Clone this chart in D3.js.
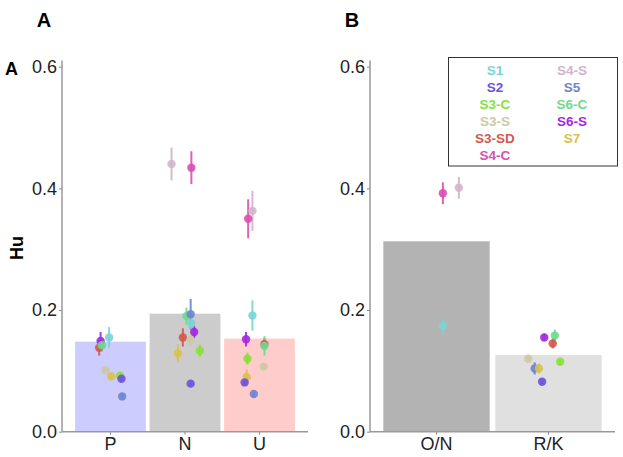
<!DOCTYPE html>
<html><head><meta charset="utf-8">
<script src="https://cdn.jsdelivr.net/npm/d3@7"></script>
<style>body{margin:0;background:#fff}svg{display:block}text{font-family:"Liberation Sans",Arial,sans-serif}</style>
</head><body>
<svg id="c" width="623" height="457"></svg>
<script>
// ---- data ----
const seriesNames = ["S1","S2","S3-C","S3-S","S3-SD","S4-C","S4-S","S5","S6-C","S6-S","S7"];
const seriesColors = ["#7ad4d6","#6e52d8","#88e03c","#cdc9a6","#d4574f","#dc4eb2","#d2b4cc","#6d85cf","#6cdb8d","#a229e0","#d9c24c"];

const catsA = ["P","N","U"];
const barsA = [0.148, 0.194, 0.153];
const barColorsA = ["#ccccff","#cccccc","#ffcccc"];

const catsB = ["O/N","R/K"];
const barsB = [0.313, 0.126];
const barColorsB = ["#b3b3b3","#e0e0e0"];

const yTicks = [0.0, 0.2, 0.4, 0.6];

// points: [category, series, mean, errorHalf, jitter (fraction of band from centre)]
const pointsA = [
  ["P","S6-S",0.149,0.015,-0.14],["P","S3-SD",0.138,0.013,-0.16],["P","S6-C",0.142,0.010,-0.12],
  ["P","S1",0.155,0.017,-0.02],["P","S3-S",0.101,0.004,-0.07],["P","S7",0.091,0.006,0.01],
  ["P","S3-C",0.092,0.006,0.135],["P","S2",0.087,0.005,0.155],["P","S5",0.058,0.005,0.165],
  ["N","S4-S",0.440,0.027,-0.19],["N","S4-C",0.434,0.027,0.09],["N","S6-C",0.190,0.014,0.02],
  ["N","S5",0.193,0.025,0.08],["N","S1",0.178,0.010,0.09],["N","S6-S",0.164,0.010,0.13],
  ["N","S3-SD",0.155,0.015,-0.03],["N","S3-S",0.151,0.010,0.08],["N","S7",0.129,0.015,-0.10],
  ["N","S3-C",0.133,0.010,0.21],["N","S2",0.079,0.004,0.08],
  ["U","S4-C",0.350,0.032,-0.16],["U","S4-S",0.363,0.033,-0.10],["U","S1",0.191,0.025,-0.10],
  ["U","S6-S",0.152,0.012,-0.19],["U","S3-SD",0.144,0.010,0.07],["U","S6-C",0.141,0.016,0.07],
  ["U","S3-C",0.120,0.010,-0.17],["U","S3-S",0.107,0.005,0.06],["U","S7",0.090,0.012,-0.18],
  ["U","S2",0.081,0.005,-0.21],["U","S5",0.062,0.005,-0.08]
];
const pointsB = [
  ["O/N","S4-C",0.392,0.018,0.06],["O/N","S4-S",0.401,0.018,0.21],["O/N","S1",0.174,0.012,0.06],
  ["R/K","S6-S",0.155,0.006,-0.04],["R/K","S6-C",0.158,0.010,0.06],["R/K","S3-SD",0.145,0.008,0.04],
  ["R/K","S3-S",0.120,0.004,-0.19],["R/K","S3-C",0.115,0.004,0.11],["R/K","S5",0.104,0.010,-0.13],
  ["R/K","S7",0.104,0.008,-0.09],["R/K","S2",0.082,0.004,-0.06]
];

// ---- drawing ----
const svg = d3.select("#c");
const color = d3.scaleOrdinal().domain(seriesNames).range(seriesColors);
const y = d3.scaleLinear().domain([0, 0.6]).range([431.7, 66.7]);

function panel(x0, x1, cats, bars, barColors, pts, padOuter, title, titleX) {
  const x = d3.scaleBand().domain(cats).range([x0, x1]).paddingInner(0.05).paddingOuter(padOuter);
  const g = svg.append("g");
  // bars
  g.selectAll("rect.bar").data(cats).join("rect")
    .attr("x", d => x(d)).attr("width", x.bandwidth())
    .attr("y", (d,i) => y(bars[i])).attr("height", (d,i) => y(0) - y(bars[i]))
    .attr("fill", (d,i) => barColors[i]);
  // error bars
  const px = d => x(d[0]) + x.bandwidth()/2 + d[4]*x.bandwidth();
  g.selectAll("line.err").data(pts).join("line")
    .attr("x1", px).attr("x2", px)
    .attr("y1", d => y(d[2]-d[3])).attr("y2", d => y(d[2]+d[3]))
    .attr("stroke", d => color(d[1])).attr("stroke-width", 2).attr("opacity", 0.9);
  g.selectAll("circle.pt").data(pts).join("circle")
    .attr("cx", px).attr("cy", d => y(d[2])).attr("r", 4.2)
    .attr("fill", d => color(d[1])).attr("opacity", 0.9);
  // axes
  const ya = g.append("g").attr("transform", `translate(${x0},0)`)
    .call(d3.axisLeft(y).tickValues(yTicks).tickFormat(d3.format(".1f")).tickSize(3).tickPadding(2));
  const xa = g.append("g").attr("transform", `translate(0,${y(0)})`)
    .call(d3.axisBottom(x).tickSize(3).tickPadding(3));
  [ya, xa].forEach(a => {
    a.select(".domain").remove();
    a.selectAll(".tick line").attr("stroke", "#888");
    a.selectAll(".tick text").attr("fill", "#222").style("font-size", "18px");
  });
  g.append("line").attr("x1", x0).attr("x2", x0).attr("y1", y(0)).attr("y2", y(0.61))
    .attr("stroke", "#999").attr("stroke-width", 1.5);
  g.append("line").attr("x1", x0).attr("x2", x1).attr("y1", y(0)).attr("y2", y(0))
    .attr("stroke", "#999").attr("stroke-width", 1.5);
  svg.append("text").attr("x", titleX).attr("y", 27).attr("text-anchor", "middle")
    .style("font-size", "20px").style("font-weight", "bold").attr("fill", "#000").text(title);
}

panel(62, 308, catsA, barsA, barColorsA, pointsA, 0.176, "A", 44);
panel(370, 615, catsB, barsB, barColorsB, pointsB, 0.119, "B", 352);

// extra tag and y label
svg.append("text").attr("x", 5).attr("y", 75).style("font-size", "18px").style("font-weight", "bold").text("A");
svg.append("text").attr("transform", "translate(23,248) rotate(-90)").attr("text-anchor", "middle")
  .style("font-size", "18px").style("font-weight", "bold").text("Hu");

// legend
const lg = svg.append("g");
lg.append("rect").attr("x", 448.5).attr("y", 57.5).attr("width", 169).attr("height", 108.5)
  .attr("fill", "#fff").attr("stroke", "#333").attr("stroke-width", 1);
const col1 = seriesNames.slice(0, 6), col2 = seriesNames.slice(6);
const rowY = d3.scaleLinear().domain([0, 5]).range([75, 160]);
[[col1, 495], [col2, 572]].forEach(([names, cx]) => {
  lg.selectAll(null).data(names).join("text")
    .attr("x", cx).attr("y", (d,i) => rowY(i)).attr("text-anchor", "middle")
    .style("font-size", "13.5px").style("font-weight", "bold")
    .attr("fill", d => color(d)).text(d => d);
});
</script>
</body></html>
